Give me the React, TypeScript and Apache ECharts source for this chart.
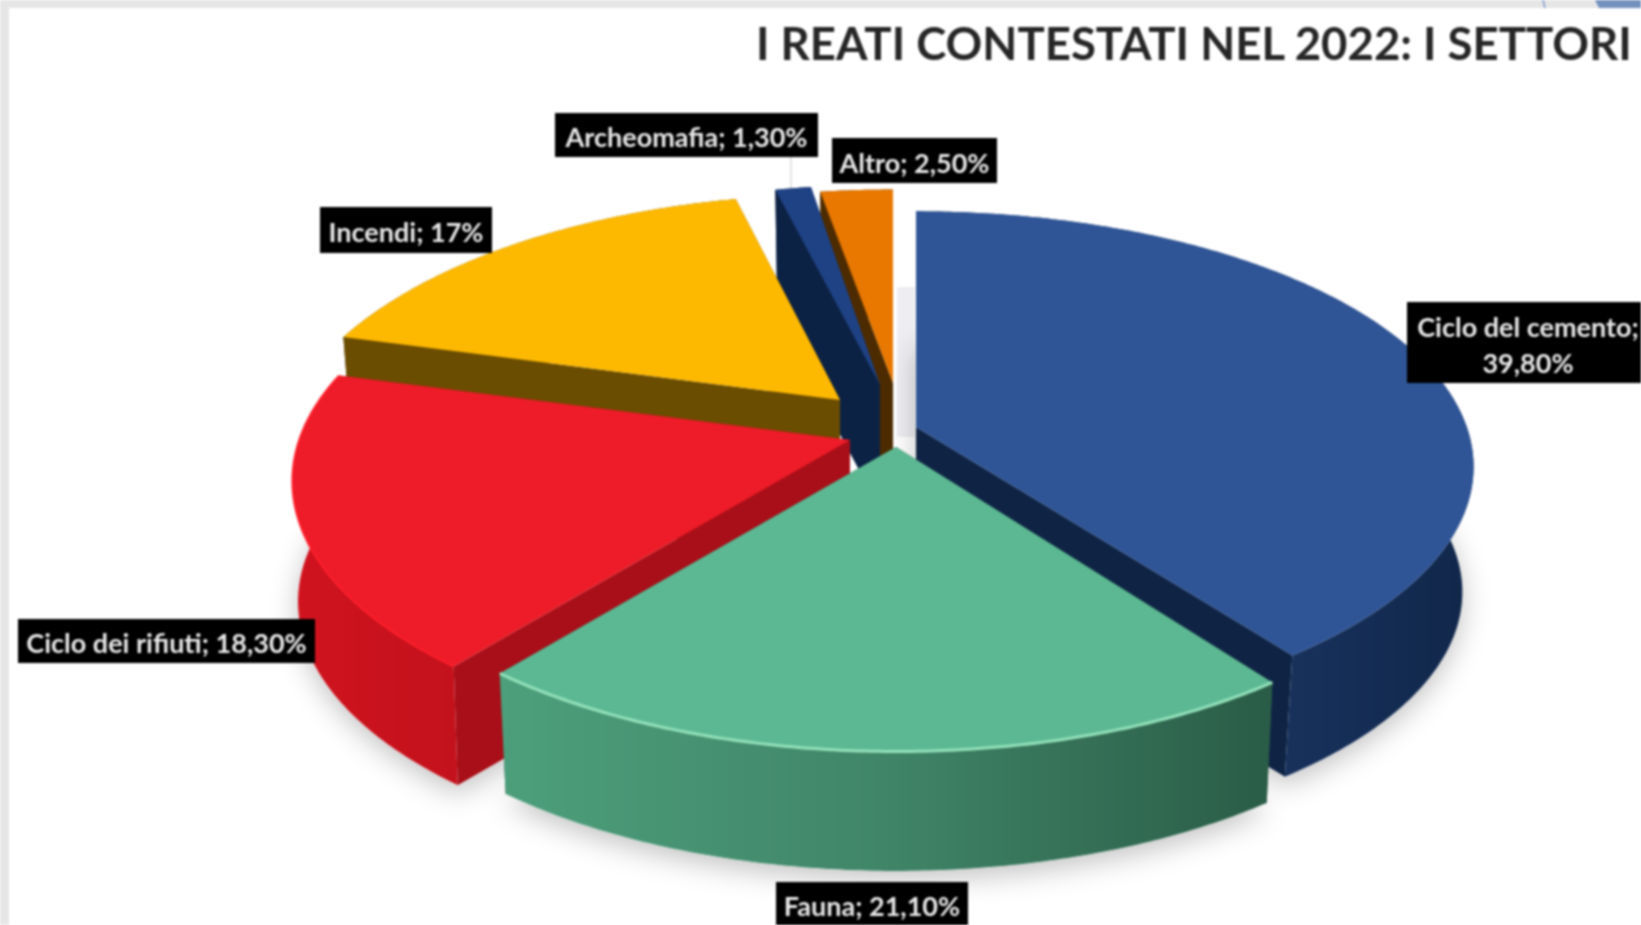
import React, { useEffect, useRef } from "react";
import * as echarts from "echarts";

const titleText = "I REATI CONTESTATI NEL 2022: I SETTORI";
const categories = ["Ciclo del cemento", "Fauna", "Ciclo dei rifiuti", "Incendi", "Archeomafia", "Altro"];
const values = [39.8, 21.1, 18.3, 17, 1.3, 2.5];
const valueLabels = ["39,80%", "21,10%", "18,30%", "17%", "1,30%", "2,50%"];

// Painter's order: back slices first
const drawOrder = [5, 4, 3, 0, 2, 1];
const frontSlices = [0, 2, 1];

const W = 1641, H = 925;
const RX = 548, RY = 257;

type Look = { ox: number; oy: number; sx: number; sy: number; persp: number; depth: number; base: number; top: string; startWall: string; endWall: string; outer: string[]; edge?: string; edgeWidth?: number };
const looks: Look[] = [
  { ox: 916, oy: 427, sx: 1.005, sy: 0.97, persp: 0.156, depth: 126, base: 0.98, top: "#2f5597", startWall: "#0f2445", endWall: "#0f2445", outer: ["#1a3766", "#1b3765", "#11274a"] },
  { ox: 896, oy: 447, sx: 1.005, sy: 1, persp: 0.156, depth: 124, base: 0.985, top: "#5cb893", startWall: "#2a5a45", endWall: "#2a5a45", outer: ["#4d9f7b", "#408568", "#2a5c47"], edge: "#93e2bb", edgeWidth: 3 },
  { ox: 850, oy: 440, sx: 1.005, sy: 1, persp: 0.156, depth: 121, base: 0.99, top: "#ed1c28", startWall: "#a80f18", endWall: "#a80f18", outer: ["#d0141f", "#c9121d", "#c4121c"], edge: "#ff1f2c", edgeWidth: 2 },
  { ox: 840, oy: 400, sx: 1, sy: 1, persp: 0.25, depth: 124, base: 0.98, top: "#fdb900", startWall: "#6b4d00", endWall: "#6b4d00", outer: ["#6b4d00", "#6b4d00", "#6b4d00"] },
  { ox: 880, oy: 385, sx: 0.93, sy: 0.9, persp: 0.156, depth: 124, base: 0.98, top: "#1f4285", startWall: "#0c2244", endWall: "#0c2244", outer: ["#0c2244", "#0c2244", "#0c2244"] },
  { ox: 893, oy: 383, sx: 0.98, sy: 0.87, persp: 0.156, depth: 124, base: 0.98, top: "#e87800", startWall: "#4d2b00", endWall: "#4d2b00", outer: ["#4d2b00", "#4d2b00", "#4d2b00"] },
];

type Box = { x: number; y: number; w: number; h: number };
const boxes: Box[] = [
  { x: 1407, y: 302, w: 250, h: 81 },
  { x: 776, y: 882, w: 192, h: 43 },
  { x: 18, y: 619, w: 297, h: 44 },
  { x: 320, y: 207, w: 172, h: 46 },
  { x: 555, y: 113, w: 263, h: 44 },
  { x: 832, y: 138, w: 165, h: 45 },
];

const total = values.reduce((a, b) => a + b, 0);
const startAngles = values.map((_, i) => (values.slice(0, i).reduce((a, b) => a + b, 0) / total) * Math.PI * 2);
const endAngles = values.map((v, i) => startAngles[i] + (v / total) * Math.PI * 2);

function rim(i: number, th: number, bottom = false): number[] {
  const g = looks[i];
  const u = Math.sin(th), v = -Math.cos(th);
  const d = 1 - g.persp * v;
  const k = bottom ? g.base : 1;
  return [g.ox + (RX * g.sx * k * u) / d, g.oy + (RY * g.sy * k * v) / d + (bottom ? g.depth : 0)];
}
function arc(i: number, bottom = false): number[][] {
  const a = startAngles[i], b = endAngles[i];
  const n = Math.max(4, Math.ceil((b - a) / 0.01));
  const pts: number[][] = [];
  for (let k = 0; k <= n; k++) pts.push(rim(i, a + ((b - a) * k) / n, bottom));
  return pts;
}
const apex = (i: number, bottom = false) => [looks[i].ox, looks[i].oy + (bottom ? looks[i].depth : 0)];

const grad = (stops: string[]) =>
  new echarts.graphic.LinearGradient(0, 0, 1, 0, stops.map((color, k) => ({ offset: k / (stops.length - 1), color })));

function renderSlice(params: any) {
  const i = drawOrder[params.dataIndex];
  const g = looks[i];
  const t = arc(i), b = arc(i, true);
  const poly = (points: number[][], fill: any) => ({ type: "polygon", shape: { points }, style: { fill, stroke: null }, silent: true });
  const children: any[] = [
    poly([apex(i), t[0], b[0], apex(i, true)], g.startWall),
    poly([apex(i), t[t.length - 1], b[b.length - 1], apex(i, true)], g.endWall),
    poly([...t, ...b.slice().reverse()], grad(g.outer)),
    poly([apex(i), ...t], g.top),
  ];
  if (g.edge) children.push({ type: "polyline", shape: { points: t }, style: { stroke: g.edge, lineWidth: g.edgeWidth, fill: null }, silent: true });
  return { type: "group", children };
}
function renderShadow(params: any) {
  const i = frontSlices[params.dataIndex];
  return {
    type: "polygon",
    shape: { points: [apex(i, true), ...arc(i, true)] },
    style: { fill: "#ffffff", shadowBlur: 28, shadowColor: "rgba(0,0,0,0.24)", shadowOffsetY: 8 },
    silent: true,
  };
}
function labelLines(i: number) {
  return i === 0 ? [categories[i] + ";", valueLabels[i]] : [categories[i] + "; " + valueLabels[i]];
}
function renderLabel(params: any) {
  const i = params.dataIndex;
  const b = boxes[i];
  const lines = labelLines(i);
  const cx = i === 0 ? 1528 : b.x + b.w / 2;
  const mid = b.y + b.h / 2 + 1.5;
  return {
    type: "group",
    children: [
      { type: "rect", shape: { x: b.x, y: b.y, width: b.w, height: b.h }, style: { fill: "#000000" }, silent: true },
      ...lines.map((text, k) => ({
        type: "text",
        silent: true,
        style: {
          x: cx,
          y: mid + (k - (lines.length - 1) / 2) * 36,
          text,
          fill: "#e8e8e8",
          font: "700 27px Lato",
          textAlign: "center",
          textVerticalAlign: "middle",
        },
      })),
    ],
  };
}

export default function App() {
  const ref = useRef<HTMLDivElement>(null);
  useEffect(() => {
    document.body.style.margin = "0";
    const chart = echarts.init(ref.current!, undefined, { renderer: "svg" });
    chart.setOption({
      animation: false,
      backgroundColor: "#ffffff",
      title: {
        text: titleText,
        left: 751,
        top: 14,
        textStyle: { fontFamily: "Lato", fontWeight: 700, fontSize: 45.5, color: "#262626" },
      },
      graphic: [
        { type: "rect", shape: { x: 0, y: 0, width: W, height: 8 }, style: { fill: "#e6e6e6" }, silent: true },
        { type: "rect", shape: { x: 0, y: 0, width: 9, height: H }, style: { fill: "#e6e6e6" }, silent: true },
        { type: "polygon", shape: { points: [[1595, 0], [W, 0], [W, 8], [1599, 8]] }, style: { fill: "#7391bd" }, silent: true },
        { type: "line", shape: { x1: 1543, y1: 0, x2: 1545, y2: 8 }, style: { stroke: "#4472c4", lineWidth: 1 }, silent: true },
        { type: "rect", shape: { x: 897, y: 287, width: 18, height: 150 }, style: { fill: "#eeeef2" }, silent: true },
        { type: "line", shape: { x1: 791, y1: 157, x2: 791, y2: 189 }, style: { stroke: "#c8c8c8", lineWidth: 1 }, silent: true },
      ],
      series: [
        { type: "custom", coordinateSystem: "none", silent: true, z: 1, data: frontSlices.map((i) => values[i]), renderItem: renderShadow },
        { type: "custom", coordinateSystem: "none", silent: true, z: 2, data: drawOrder.map((i) => values[i]), renderItem: renderSlice },
        { type: "custom", coordinateSystem: "none", silent: true, z: 3, data: categories.map((_, i) => values[i]), renderItem: renderLabel },
      ],
    });
    return () => chart.dispose();
  }, []);
  return <div ref={ref} style={{ position: "absolute", left: 0, top: 0, width: W, height: H, filter: "blur(0.9px)" }} />;
}
